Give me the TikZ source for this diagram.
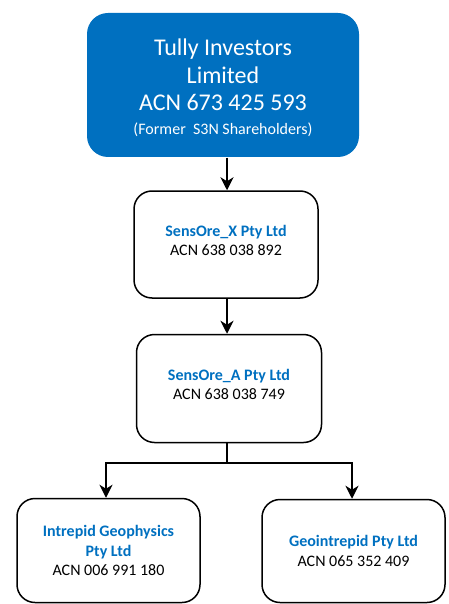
\documentclass[tikz,border=0pt]{standalone}
\usepackage{fontspec}
\setmainfont{Carlito}
\usetikzlibrary{arrows.meta,positioning}
\definecolor{acnblue}{HTML}{0070C0}
\tikzset{
  firm/.style={draw=black, line width=1.5pt, rounded corners=18pt, align=center,
    inner sep=0pt, font=\fontsize{16}{19.5}\selectfont},
  topfirm/.style={firm, draw=none, fill=acnblue, text=white, rounded corners=21pt,
    font=\fontsize{24}{28}\selectfont},
  link/.style={line width=1.5pt, -{Stealth[length=13pt,width=13pt,inset=4pt]}}
}
\newcommand{\firmname}[1]{{\bfseries\color{acnblue}#1}}

\begin{document}
\begin{tikzpicture}[x=1pt,y=-1pt]
	\useasboundingbox (0,0) rectangle (448,604);
	\node[topfirm, minimum width=272pt, minimum height=144pt] (tully) at (223,85)
		{\\[-5pt]Tully Investors\\Limited\\[-1pt]ACN 673 425 593\\[-4pt]{\fontsize{16}{16}\selectfont(Former~ S3N Shareholders)}};
	\node[firm, minimum width=184pt, minimum height=107pt] (sensx) at (226,244.5)
		{\firmname{SensOre\_X Pty Ltd}\\ACN 638 038 892\\[-11pt]};
	\node[firm, minimum width=185pt, minimum height=108pt] (sensa) at (229,388.5)
		{\firmname{SensOre\_A Pty Ltd}\\ACN 638 038 749\\[-11pt]};
	\node[firm, minimum width=183pt, minimum height=104pt] (intrepid) at (108.5,550.5)
		{\firmname{Intrepid Geophysics}\\\firmname{Pty Ltd}\\ACN 006 991 180};
	\node[firm, minimum width=183pt, minimum height=103pt] (geo) at (353.5,551)
		{\firmname{Geointrepid Pty Ltd}\\ACN 065 352 409};
	\coordinate (split) at (227,463);
	\coordinate (leftdrop) at (106,463);
	\coordinate (rightdrop) at (352,463);
	\draw[link] (tully.south -| split) -- (sensx.north -| split);
	\draw[link] (sensx.south -| split) -- (sensa.north -| split);
	\draw[line width=1.5pt] (sensa.south -| split) -- (split);
	\draw[link] (split) -- (leftdrop) -- (intrepid.north -| leftdrop);
	\draw[link] (split) -- (rightdrop) -- (geo.north -| rightdrop);
\end{tikzpicture}
\end{document}
